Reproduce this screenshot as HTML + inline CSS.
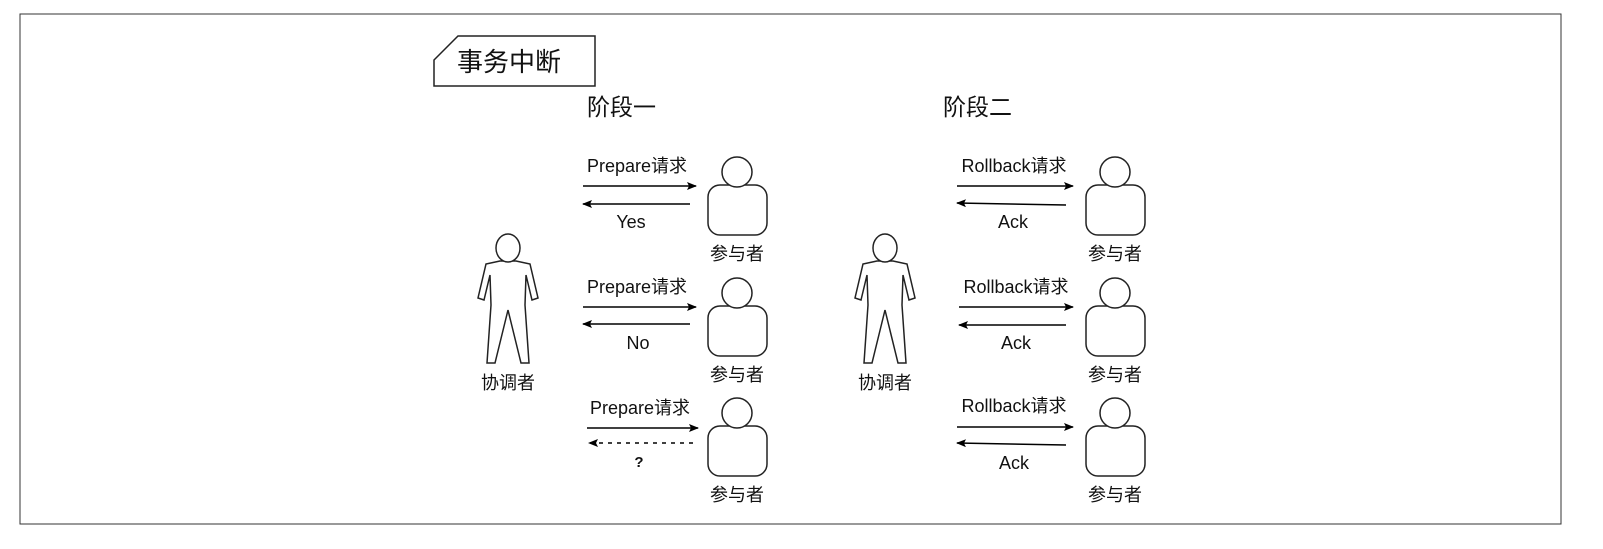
<!DOCTYPE html>
<html><head><meta charset="utf-8"><style>
html,body{margin:0;padding:0;background:#fff;}
svg text{font-family:"Liberation Sans","Noto Sans CJK SC",sans-serif;fill:#111;}
</style></head><body>
<svg width="1603" height="544" viewBox="0 0 1603 544" xmlns="http://www.w3.org/2000/svg">
<defs>
<marker id="ah" markerWidth="10" markerHeight="8" refX="9" refY="4" orient="auto" markerUnits="userSpaceOnUse">
<path d="M0,0 L10,4 L0,8 L2,4 Z" fill="#000"/></marker>
<g id="part">
<rect x="-29" y="13" width="59" height="50" rx="12" fill="#fff" stroke="#222" stroke-width="1.5"/>
<circle cx="0" cy="0" r="15" fill="#fff" stroke="#222" stroke-width="1.5"/>
</g>
<g id="man" fill="#fff" stroke="#222" stroke-width="1.5">
<path d="M-8,13 L-22,16 L-30,50 L-24,52 L-18,27 L-17,57 L-21,115 L-13,115 L0,62 L13,115 L21,115 L17,57 L18,27 L24,52 L30,50 L22,16 L8,13 Z"/>
<ellipse cx="0" cy="0" rx="12" ry="14"/>
</g>
</defs>
<rect x="20" y="14" width="1541" height="510" fill="none" stroke="#333" stroke-width="1"/>
<path d="M434,60 L458,36 L595,36 L595,86 L434,86 Z" fill="#fff" stroke="#222" stroke-width="1.5"/>
<text x="457" y="71" font-size="26">事务中断</text>
<text x="587" y="115" font-size="23" fill="#333">阶段一</text>
<text x="943" y="115" font-size="23" fill="#333">阶段二</text>

<use href="#man" x="508" y="248"/>
<text x="508" y="389" font-size="18" text-anchor="middle">协调者</text>
<use href="#man" x="885" y="248"/>
<text x="885" y="389" font-size="18" text-anchor="middle">协调者</text>

<g font-size="18" text-anchor="middle">
<use href="#part" x="737" y="172"/><text x="737" y="260">参与者</text>
<use href="#part" x="737" y="293"/><text x="737" y="381">参与者</text>
<use href="#part" x="737" y="413"/><text x="737" y="501">参与者</text>
<use href="#part" x="1115" y="172"/><text x="1115" y="260">参与者</text>
<use href="#part" x="1115" y="293"/><text x="1115" y="381">参与者</text>
<use href="#part" x="1115" y="413"/><text x="1115" y="501">参与者</text>

<text x="637" y="172">Prepare请求</text>
<line x1="583" y1="186" x2="696" y2="186" stroke="#000" stroke-width="1.5" marker-end="url(#ah)"/>
<line x1="690" y1="204" x2="583" y2="204" stroke="#000" stroke-width="1.5" marker-end="url(#ah)"/>
<text x="631" y="228">Yes</text>

<text x="637" y="293">Prepare请求</text>
<line x1="583" y1="307" x2="696" y2="307" stroke="#000" stroke-width="1.5" marker-end="url(#ah)"/>
<line x1="690" y1="324" x2="583" y2="324" stroke="#000" stroke-width="1.5" marker-end="url(#ah)"/>
<text x="638" y="349">No</text>

<text x="640" y="414">Prepare请求</text>
<line x1="587" y1="428" x2="698" y2="428" stroke="#000" stroke-width="1.5" marker-end="url(#ah)"/>
<line x1="693" y1="443" x2="589" y2="443" stroke="#000" stroke-width="1.5" stroke-dasharray="4,5" marker-end="url(#ah)"/>
<text x="639" y="467" font-weight="bold" font-size="15">?</text>

<text x="1014" y="172">Rollback请求</text>
<line x1="957" y1="186" x2="1073" y2="186" stroke="#000" stroke-width="1.5" marker-end="url(#ah)"/>
<line x1="1066" y1="205" x2="957" y2="203" stroke="#000" stroke-width="1.5" marker-end="url(#ah)"/>
<text x="1013" y="228">Ack</text>

<text x="1016" y="293">Rollback请求</text>
<line x1="959" y1="307" x2="1073" y2="307" stroke="#000" stroke-width="1.5" marker-end="url(#ah)"/>
<line x1="1066" y1="325" x2="959" y2="325" stroke="#000" stroke-width="1.5" marker-end="url(#ah)"/>
<text x="1016" y="349">Ack</text>

<text x="1014" y="412">Rollback请求</text>
<line x1="957" y1="427" x2="1073" y2="427" stroke="#000" stroke-width="1.5" marker-end="url(#ah)"/>
<line x1="1066" y1="445" x2="957" y2="443" stroke="#000" stroke-width="1.5" marker-end="url(#ah)"/>
<text x="1014" y="469">Ack</text>
</g>
</svg>
</body></html>
